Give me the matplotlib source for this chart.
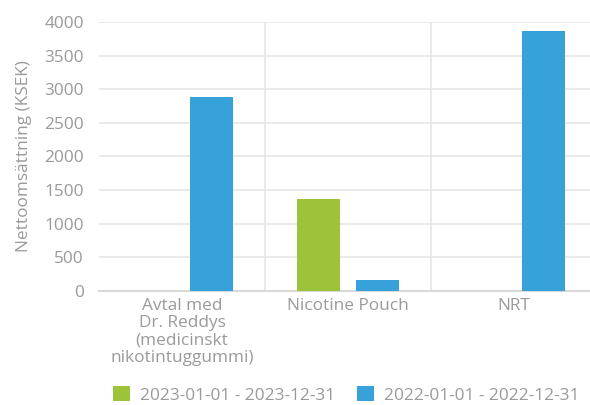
import numpy as np
import matplotlib.pyplot as plt

categories = ['Avtal med\nDr. Reddys\n(medicinskt\nnikotintuggummi)', 'Nicotine Pouch', 'NRT']
series_names = ['2023-01-01 - 2023-12-31', '2022-01-01 - 2022-12-31']
values_2023 = [0, 1365, 0]
values_2022 = [2890, 165, 3870]
colors = ['#9dc33b', '#37a2da']

plt.rcParams['font.family'] = ['Open Sans', 'DejaVu Sans']
grey = '#9a9a9a'
fs = 12.4

fig = plt.figure(figsize=(5.9, 4.05), dpi=100)
ax = fig.add_axes([0.168, 0.2815, 0.844, 0.6642])

x = np.arange(len(categories))
w = 0.26
ax.bar(x - 0.178, values_2023, w, color=colors[0], label=series_names[0], zorder=3)
ax.bar(x + 0.178, values_2022, w, color=colors[1], label=series_names[1], zorder=3)

ax.set_xlim(-0.5, 2.5)
ax.set_ylim(0, 4000)
ax.set_yticks(np.arange(0, 4001, 500))
ax.set_xticks(x)
ax.set_xticklabels(categories, linespacing=1.12)
ax.set_xticks([0.5, 1.5], minor=True)

ax.yaxis.grid(True, color='#e6e6e6', linewidth=1.2, zorder=0)
ax.xaxis.grid(True, which='minor', color='#e6e6e6', linewidth=1.2, zorder=0)
ax.tick_params(axis='both', which='both', length=0, labelsize=fs, colors=grey)
ax.tick_params(axis='y', pad=11)
ax.tick_params(axis='x', pad=5)

for s in ['top', 'right', 'left']:
    ax.spines[s].set_visible(False)
ax.spines['bottom'].set_color('#d9d9d9')
ax.spines['bottom'].set_linewidth(1.5)

ax.set_ylabel('Nettoomsättning (KSEK)', color=grey, fontsize=fs, labelpad=9)

fig.legend(loc='lower left', bbox_to_anchor=(0.165, -0.035), ncol=2, frameon=False,
           fontsize=fs, handlelength=1.0, handleheight=1.0, handletextpad=0.55,
           columnspacing=1.3, labelcolor=grey)

fig.savefig('out.png', dpi=100)
